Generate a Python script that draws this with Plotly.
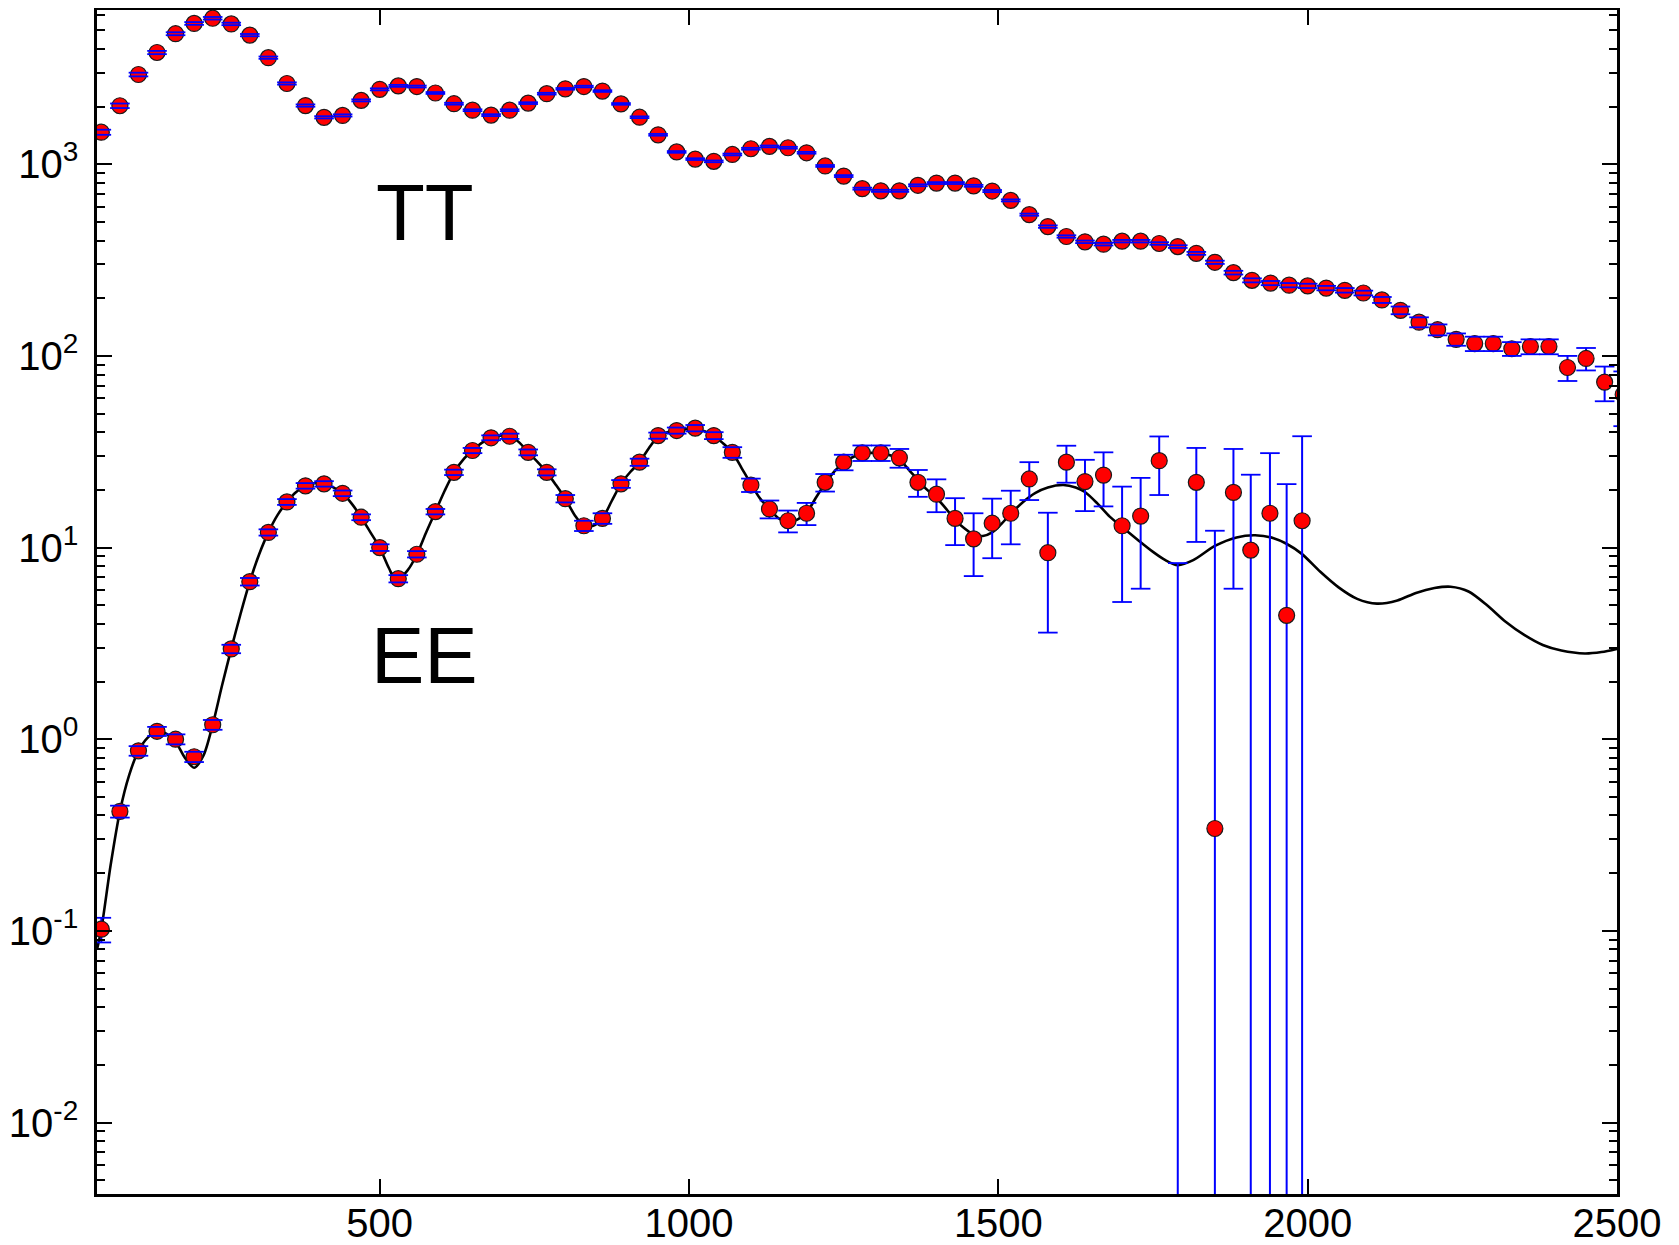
import math
import plotly.graph_objects as go

# ---------------- data ----------------
tt_ell = [50, 80, 110, 140, 170, 200, 230, 260, 290, 320,
          350, 380, 410, 440, 470, 500, 530, 560, 590, 620,
          650, 680, 710, 740, 770, 800, 830, 860, 890, 920,
          950, 980, 1010, 1040, 1070, 1100, 1130, 1160, 1190, 1220,
          1250, 1280, 1310, 1340, 1370, 1400, 1430, 1460, 1490, 1520,
          1550, 1580, 1610, 1640, 1670, 1700, 1730, 1760, 1790, 1820,
          1850, 1880, 1910, 1940, 1970, 2000, 2030, 2060, 2090, 2120,
          2150, 2180, 2210, 2240, 2270, 2300, 2330, 2360, 2390, 2420,
          2450, 2480, 2510]
tt_val = [1470, 2020, 2940, 3830, 4800, 5430, 5780, 5400, 4720, 3600,
          2640, 2025, 1758, 1798, 2155, 2460, 2565, 2545, 2355, 2070,
          1915, 1805, 1915, 2085, 2335, 2475, 2545, 2410, 2065, 1760,
          1425, 1160, 1064, 1036, 1125, 1205, 1240, 1220, 1148, 980,
          868, 746, 727, 727, 777, 798, 798, 772, 725, 648,
          546, 473, 420, 394, 383, 397, 397, 386, 372, 343,
          308, 272, 248, 240, 234, 232, 226, 220, 213, 196,
          173, 150, 137, 122, 116, 116, 109, 112, 112, 87,
          97, 73, 63]
tt_err = [45, 55, 65, 75, 85, 90, 90, 80, 65, 50,
          36, 28, 24, 24, 27, 30, 30, 29, 26, 23,
          21, 20, 21, 22, 24, 25, 25, 24, 21, 18,
          15, 12, 11, 11, 12, 13, 13, 13, 12, 11,
          10, 9, 9, 9, 9, 9, 9, 9, 9, 8,
          7, 7, 6, 6, 6, 6, 6, 6, 6, 6,
          6, 6, 6, 6, 6, 6, 6, 6, 6, 7,
          8, 9, 9, 9, 10, 10, 9, 10, 10, 13,
          13, 15, 20]

ee_ell = [50, 80, 110, 140, 170, 200, 230, 260, 290, 320,
          350, 380, 410, 440, 470, 500, 530, 560, 590, 620,
          650, 680, 710, 740, 770, 800, 830, 860, 890, 920,
          950, 980, 1010, 1040, 1070, 1100, 1130, 1160, 1190, 1220,
          1250, 1280, 1310, 1340, 1370, 1400, 1430, 1460, 1490, 1520,
          1550, 1580, 1610, 1640, 1670, 1700, 1730, 1760, 1790, 1820,
          1850, 1880, 1908, 1939, 1966, 1991]
ee_val = [0.102, 0.42, 0.87, 1.10, 1.00, 0.81, 1.19, 2.96, 6.64, 12.0,
          17.3, 21.0, 21.5, 19.2, 14.4, 10.0, 6.88, 9.23, 15.4, 24.7,
          32.1, 37.4, 38.1, 31.4, 24.7, 18.0, 13.0, 14.2, 21.5, 27.9,
          38.4, 40.8, 42.0, 38.4, 31.4, 21.2, 15.9, 13.8, 15.1, 21.9,
          27.9, 31.2, 31.2, 29.4, 21.9, 19.0, 14.2, 11.1, 13.4, 15.1,
          22.8, 9.4, 27.9, 22.1, 23.9, 13.0, 14.6, 28.4, -2.0, 21.9,
          0.342, 19.4, 9.7, 15.1, 4.43, 13.8]
ee_err = [0.015, 0.03, 0.05, 0.06, 0.06, 0.05, 0.07, 0.15, 0.3, 0.45,
          0.6, 0.7, 0.7, 0.65, 0.5, 0.4, 0.3, 0.35, 0.5, 0.8,
          1.0, 1.1, 1.2, 1.1, 0.9, 0.8, 0.8, 0.9, 1.0, 1.2,
          1.4, 1.5, 1.6, 1.6, 2.0, 1.7, 1.7, 1.8, 2.0, 2.3,
          2.6, 2.9, 2.9, 3.3, 3.5, 3.7, 3.9, 4.0, 4.6, 4.7,
          5.1, 5.8, 6.1, 6.6, 7.5, 7.8, 8.5, 9.6, 10.3, 11.2,
          11.9, 13.3, 14.3, 16.0, 17.0, 24.3]

# EE model curve
th_ell = [43, 50, 65, 80, 95, 110, 125, 140, 155, 170, 185, 200, 215, 230, 245,
          260, 275, 290, 305, 320, 335, 350, 365, 380, 395, 410, 425, 440, 455,
          470, 485, 500, 515, 527, 545, 560, 575, 590, 605, 620, 635, 650, 665,
          680, 695, 710, 725, 740, 755, 770, 785, 800, 815, 830, 845, 860, 875,
          890, 905, 920, 935, 950, 965, 980, 995, 1010, 1025, 1040, 1055, 1070,
          1085, 1100, 1115, 1130, 1145, 1160, 1175, 1190, 1205, 1220, 1235, 1250,
          1265, 1280, 1295, 1310, 1325, 1340, 1355, 1370, 1385, 1400, 1415, 1430,
          1445, 1460, 1475, 1490, 1505, 1520, 1540, 1560, 1580, 1605, 1625, 1640,
          1660, 1680, 1700, 1725, 1750, 1770, 1790, 1815, 1850, 1885, 1915, 1945,
          1965, 1990, 2020, 2050, 2080, 2112, 2145, 2175, 2205, 2231, 2260, 2290,
          2320, 2350, 2380, 2410, 2448, 2475, 2500]
th_val = [0.08, 0.102, 0.22, 0.42, 0.65, 0.87, 1.02, 1.10, 1.07, 0.97, 0.80, 0.71,
          0.82, 1.19, 1.9, 2.96, 4.5, 6.64, 9.2, 12.0, 14.8, 17.3, 19.5, 21.0,
          21.7, 21.5, 20.6, 19.2, 16.9, 14.4, 12.0, 10.0, 7.8, 6.7, 7.6, 9.2,
          12.0, 15.4, 19.8, 24.7, 28.8, 32.1, 35.2, 37.4, 38.4, 38.1, 35.5,
          31.4, 28.0, 24.7, 21.2, 18.0, 14.8, 13.0, 13.0, 14.2, 17.5, 21.5,
          24.8, 27.9, 33.0, 38.0, 40.0, 40.8, 41.5, 41.6, 40.5, 38.4, 35.0,
          31.4, 26.0, 21.5, 18.0, 15.9, 14.2, 13.6, 14.0, 15.2, 18.2, 21.6,
          25.0, 27.8, 29.7, 30.8, 31.2, 31.0, 30.3, 28.8, 25.5, 22.5, 20.0,
          18.2, 16.0, 14.0, 12.6, 11.7, 11.5, 12.0, 13.3, 15.0, 17.3, 19.3,
          20.6, 21.2, 20.6, 19.5, 17.0, 14.5, 12.8, 11.0, 9.5, 8.6, 8.1, 8.6,
          10.2, 11.3, 11.6, 11.2, 10.5, 9.3, 7.5, 6.2, 5.4, 5.1, 5.3, 5.8,
          6.15, 6.25, 5.9, 5.0, 4.1, 3.5, 3.1, 2.9, 2.8, 2.85, 2.96]

x_ticks = [500, 1000, 1500, 2000, 2500]
y_ticks = [0.01, 0.1, 1, 10, 100, 1000]
y_ticktext = ["10<sup>-2</sup>", "10<sup>-1</sup>", "10<sup>0</sup>",
              "10<sup>1</sup>", "10<sup>2</sup>", "10<sup>3</sup>"]
labels = [("TT", 573, 561.0), ("EE", 573, 2.73)]

# ---------------- styles ----------------
FONT = "Liberation Sans, Arial, Helvetica, sans-serif"
BLUE = "#0000ff"
RED = "#ff0000"
MSIZE = 16
CAPSIZE = 14   # line-ew length is 1.4 * size

fig = go.Figure()

# model curve
fig.add_trace(go.Scatter(x=th_ell, y=th_val, mode="lines",
                         line=dict(color="black", width=2.6, shape="spline", smoothing=0.8),
                         hoverinfo="skip", showlegend=False))


def add_points(ell, val, err):
    # vertical bars (under markers): anchored at the top end so that bars
    # whose central value is negative are still drawn on the log axis
    top = [v + e for v, e in zip(val, err)]
    fig.add_trace(go.Scatter(x=ell, y=top, mode="markers",
                             marker=dict(size=1, opacity=0),
                             error_y=dict(type="data", symmetric=False,
                                          array=[0] * len(err),
                                          arrayminus=[2 * e for e in err],
                                          visible=True, color=BLUE,
                                          thickness=2, width=0),
                             showlegend=False, hoverinfo="skip"))
    # markers
    fig.add_trace(go.Scatter(x=ell, y=val, mode="markers",
                             marker=dict(size=MSIZE, color=RED,
                                         line=dict(color="#1a1a1a", width=1.2)),
                             showlegend=False))
    # caps (over markers)
    cx, cy = [], []
    for l, v, e in zip(ell, val, err):
        cx.append(l)
        cy.append(v + e)
        if v - e > 0:
            cx.append(l)
            cy.append(v - e)
    fig.add_trace(go.Scatter(x=cx, y=cy, mode="markers",
                             marker=dict(symbol="line-ew", size=CAPSIZE,
                                         line=dict(color=BLUE, width=1.8)),
                             showlegend=False, hoverinfo="skip"))


add_points(tt_ell, tt_val, tt_err)
add_points(ee_ell, ee_val, ee_err)

for txt, lx, ly in labels:
    fig.add_annotation(x=lx, y=math.log10(ly), xref="x", yref="y", text=txt,
                       showarrow=False, xanchor="center", yanchor="middle",
                       font=dict(family=FONT, size=80, color="black"))

# the page body has an 8px margin: figure is offset by 8px
fig.update_layout(
    width=1671, height=1237,
    margin=dict(l=89, r=62, t=2, b=51, pad=0),
    paper_bgcolor="white", plot_bgcolor="white",
    font=dict(family=FONT, size=40, color="black"),
    showlegend=False,
)
fig.update_xaxes(range=[43, 2500], tickmode="array", tickvals=x_ticks,
                 ticks="inside", ticklen=15, tickwidth=1.5, tickcolor="black",
                 showline=True, linewidth=2.5, linecolor="black", mirror="allticks",
                 showgrid=False, zeroline=False, automargin=False,
                 tickfont=dict(family=FONT, size=40, color="black"),
                 ticklabelstandoff=-8)
minor_vals = [k * 10 ** n for n in range(-3, 4) for k in range(2, 10)]
fig.update_yaxes(type="log", range=[-2.373, 3.805], tickmode="array",
                 tickvals=y_ticks, ticktext=y_ticktext,
                 ticks="inside", ticklen=15, tickwidth=1.5, tickcolor="black",
                 minor=dict(tickmode="array", tickvals=minor_vals, ticks="inside",
                            ticklen=8, tickwidth=1.5, tickcolor="black", showgrid=False),
                 showline=True, linewidth=2.5, linecolor="black", mirror="allticks",
                 showgrid=False, zeroline=False, automargin=False,
                 tickfont=dict(family=FONT, size=40, color="black"),
                 ticklabelstandoff=8)

fig.write_html("out.html")
